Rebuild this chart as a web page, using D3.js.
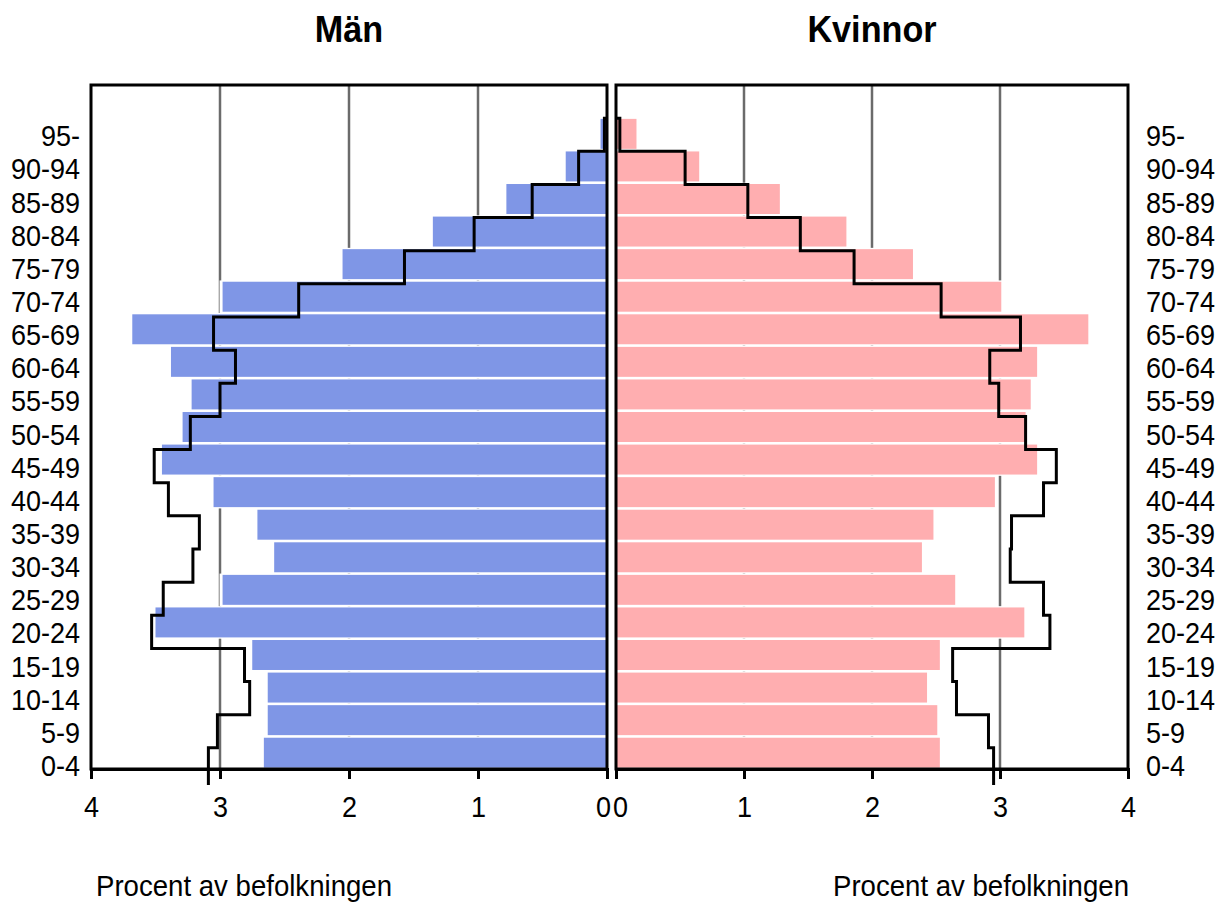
<!DOCTYPE html>
<html>
<head>
<meta charset="utf-8">
<script src="https://cdn.jsdelivr.net/npm/d3@7"></script>
<style>
  body { margin: 0; background: #fff; }
  text { font-family: "Liberation Sans", Arial, sans-serif; fill: #000; }
</style>
</head>
<body>
<div id="chart"></div>
<script>
// age groups, top to bottom
const ages = ["95-", "90-94", "85-89", "80-84", "75-79", "70-74", "65-69", "60-64", "55-59", "50-54",
  "45-49", "40-44", "35-39", "30-34", "25-29", "20-24", "15-19", "10-14", "5-9", "0-4"];

// percent of population (bars)
const menBars = [0.05, 0.32, 0.78, 1.35, 2.05, 2.98, 3.68, 3.38, 3.22, 3.29,
  3.45, 3.05, 2.71, 2.58, 2.98, 3.50, 2.75, 2.63, 2.63, 2.66];
const womenBars = [0.16, 0.65, 1.28, 1.80, 2.32, 3.01, 3.69, 3.29, 3.24, 3.20,
  3.29, 2.96, 2.48, 2.39, 2.65, 3.19, 2.53, 2.43, 2.51, 2.53];

// comparison outline (step line)
const menLine = [0.02, 0.22, 0.58, 1.03, 1.57, 2.39, 3.05, 2.88, 3.00, 3.23,
  3.51, 3.40, 3.16, 3.21, 3.44, 3.53, 2.81, 2.77, 3.02, 3.09];
const womenLine = [0.03, 0.54, 1.03, 1.44, 1.86, 2.54, 3.16, 2.92, 2.99, 3.20,
  3.44, 3.34, 3.09, 3.08, 3.34, 3.39, 2.63, 2.66, 2.91, 2.95];

const tickVals = [0, 1, 2, 3, 4];
const gridVals = [1, 2, 3];
const titles = ["Män", "Kvinnor"];
const axisTitle = "Procent av befolkningen";

const W = 1219, H = 902;
const plotTop = 85, plotBottom = 769;

const svg = d3.select("#chart").append("svg")
  .attr("width", W).attr("height", H);

// one empty slot above "95-"
const slots = [""].concat(ages);

const yBar = d3.scaleBand().domain(slots).range([plotTop, plotBottom])
  .paddingInner(0.08).paddingOuter(0.04);
const yLine = d3.scaleBand().domain(slots).range([plotTop, 781]);

const xMen = d3.scaleLinear().domain([4, 0]).range([91, 607]);
const xWomen = d3.scaleLinear().domain([0, 4]).range([616, 1128]);

const panels = [
  { x: xMen, bars: menBars, line: menLine, color: "#7f96e6", title: titles[0] },
  { x: xWomen, bars: womenBars, line: womenLine, color: "#ffaeb0", title: titles[1] }
];

const step = yBar.step();
const gap = step - yBar.bandwidth();

panels.forEach(p => {
  const g = svg.append("g");
  const x0 = p.x(0);
  const dir = p.x(1) > x0 ? 1 : -1;

  // gridlines
  g.selectAll(".grid").data(gridVals).join("line")
    .attr("x1", d => p.x(d)).attr("x2", d => p.x(d))
    .attr("y1", plotTop).attr("y2", plotBottom)
    .attr("stroke", "#6b6b6b").attr("stroke-width", 2.5);

  // white halo behind bars, hides gridlines close to bar tips
  g.selectAll(".halo").data(ages).join("rect")
    .attr("x", (d, i) => Math.min(x0, p.x(p.bars[i]) + dir * 3))
    .attr("width", (d, i) => Math.abs(p.x(p.bars[i]) - x0) + 3)
    .attr("y", d => yBar(d) - gap / 2)
    .attr("height", step)
    .attr("fill", "#fff");

  // bars
  g.selectAll(".bar").data(ages).join("rect")
    .attr("x", (d, i) => Math.min(x0, p.x(p.bars[i])))
    .attr("width", (d, i) => Math.abs(p.x(p.bars[i]) - x0))
    .attr("y", d => yBar(d))
    .attr("height", yBar.bandwidth())
    .attr("fill", p.color);

  // step line
  const pts = [[x0, yLine(ages[0])]];
  ages.forEach((a, i) => {
    const xv = p.x(p.line[i]);
    pts.push([xv, yLine(a)]);
    pts.push([xv, yLine(a) + yLine.step() + (i === ages.length - 1 ? 4 : 0)]);
  });
  g.append("path")
    .attr("d", d3.line()(pts))
    .attr("fill", "none")
    .attr("stroke", "#000")
    .attr("stroke-width", 3)
    .attr("stroke-linejoin", "miter");

  // frame
  const [xa, xb] = d3.extent(p.x.range());
  g.append("rect")
    .attr("x", xa).attr("y", plotTop)
    .attr("width", xb - xa).attr("height", plotBottom - plotTop)
    .attr("fill", "none").attr("stroke", "#000").attr("stroke-width", 3);

  // x axis
  const ax = g.append("g")
    .attr("transform", `translate(0,${plotBottom})`)
    .call(d3.axisBottom(p.x).tickValues(tickVals).tickFormat(d3.format("d"))
      .tickSize(10).tickSizeOuter(10).tickPadding(17));
  ax.select(".domain").attr("stroke-width", 3);
  ax.selectAll(".tick line").attr("stroke-width", 3);
  // the two zeros sit side by side in the middle: nudge them apart (outwards)
  ax.selectAll(".tick text")
    .attr("font-size", 30)
    .attr("font-family", "Liberation Sans, Arial, sans-serif")
    .attr("fill", "#000")
    .attr("transform", d => `translate(${d === 0 ? dir * 4 : 0},0) scale(0.9,1)`);

  // panel title
  g.append("text")
    .attr("transform", `translate(${(xa + xb) / 2},42) scale(0.95,1)`)
    .attr("text-anchor", "middle")
    .attr("font-size", 36)
    .attr("font-weight", "bold")
    .text(p.title);
});

// age labels on both sides
[[80, "end"], [1146, "start"]].forEach(([lx, anchor]) => {
  svg.append("g").selectAll("text").data(ages).join("text")
    .attr("transform", d => `translate(${lx},${yLine(d) + yLine.bandwidth() / 2 + 1}) scale(0.9,1)`)
    .attr("text-anchor", anchor)
    .attr("dominant-baseline", "central")
    .attr("font-size", 30)
    .text(d => d);
});

// axis titles
svg.append("text")
  .attr("transform", "translate(96,896) scale(0.92,1)")
  .attr("font-size", 30)
  .text(axisTitle);
svg.append("text")
  .attr("transform", "translate(1129,896) scale(0.92,1)")
  .attr("text-anchor", "end")
  .attr("font-size", 30)
  .text(axisTitle);
</script>
</body>
</html>
